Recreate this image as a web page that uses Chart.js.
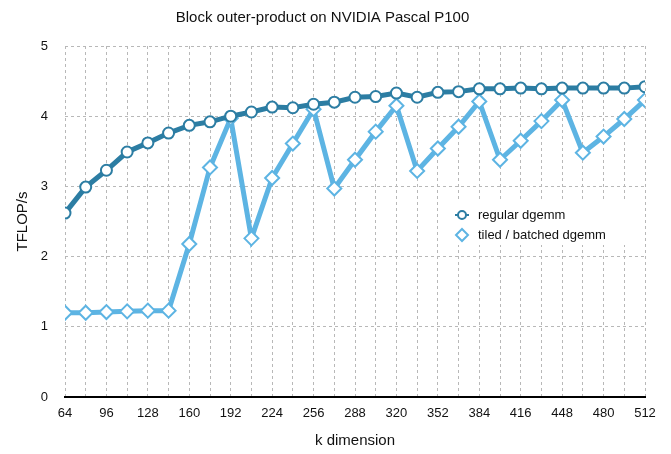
<!DOCTYPE html>
<html>
<head>
<meta charset="utf-8">
<script src="https://cdn.jsdelivr.net/npm/chart.js@4/dist/chart.umd.min.js"></script>
<style>
html,body{margin:0;padding:0;background:#fff;}
#wrap{width:671px;height:454px;}
</style>
</head>
<body>
<div id="wrap"><canvas id="c" width="671" height="454"></canvas></div>
<script>
const kValues = [64,80,96,112,128,144,160,176,192,208,224,240,256,272,288,304,320,336,352,368,384,400,416,432,448,464,480,496,512];
const regularDgemm = [2.62,2.99,3.23,3.49,3.62,3.76,3.87,3.92,4.00,4.06,4.13,4.12,4.17,4.20,4.27,4.28,4.33,4.27,4.34,4.35,4.39,4.39,4.40,4.39,4.40,4.40,4.40,4.40,4.42];
const tiledDgemm = [1.20,1.20,1.21,1.22,1.23,1.23,2.18,3.27,3.97,2.26,3.12,3.61,4.10,2.97,3.38,3.78,4.15,3.22,3.54,3.85,4.21,3.38,3.65,3.93,4.23,3.48,3.71,3.96,4.23];
const seriesNames = ['regular dgemm','tiled / batched dgemm'];
const yTicks = [0,1,2,3,4,5];
const xLabelStep = 32;

const FONT = "'Liberation Sans', Arial, Helvetica, sans-serif";
const C1 = '#2C7DA3';
const C2 = '#5DB4E3';
const GRID = '#b8b8b8';

const legendPlugin = {
  id: 'insideLegend',
  beforeDatasetsDraw(chart) {
    const ctx = chart.ctx;
    ctx.save();
    ctx.fillStyle = '#fff';
    ctx.fillRect(449, 202, 191, 43);
    ctx.font = '13px ' + FONT;
    ctx.textBaseline = 'middle';
    chart.data.datasets.forEach((ds, i) => {
      const y = 215 + i * 20;
      const x = 462;
      ctx.strokeStyle = ds.borderColor;
      ctx.fillStyle = '#fff';
      ctx.lineWidth = 2;
      if (i === 0) {
        ctx.beginPath(); ctx.moveTo(x - 7, y); ctx.lineTo(x + 7, y); ctx.stroke();
        ctx.beginPath(); ctx.arc(x, y, 4, 0, Math.PI * 2); ctx.fill(); ctx.stroke();
      } else {
        ctx.beginPath();
        ctx.moveTo(x, y - 6); ctx.lineTo(x + 6, y); ctx.lineTo(x, y + 6); ctx.lineTo(x - 6, y); ctx.closePath();
        ctx.fill(); ctx.stroke();
      }
      ctx.fillStyle = '#111';
      ctx.fillText(ds.label, 478, y);
    });
    ctx.restore();
  }
};

new Chart(document.getElementById('c'), {
  type: 'line',
  data: {
    datasets: [
      {
        label: seriesNames[0],
        data: kValues.map((k, i) => ({x: k, y: regularDgemm[i]})),
        borderColor: C1, backgroundColor: '#fff',
        borderWidth: 5, pointRadius: 5.5, pointBorderWidth: 2,
        pointBackgroundColor: '#fff', pointBorderColor: C1,
        pointStyle: 'circle', tension: 0
      },
      {
        label: seriesNames[1],
        data: kValues.map((k, i) => ({x: k, y: tiledDgemm[i]})),
        borderColor: C2, backgroundColor: '#fff',
        borderWidth: 5, pointRadius: 7, pointBorderWidth: 2,
        pointBackgroundColor: '#fff', pointBorderColor: C2,
        pointStyle: 'rectRot', tension: 0
      }
    ]
  },
  options: {
    responsive: false,
    animation: false,
    layout: {padding: {left: 0, right: 26, top: 0, bottom: 0}},
    plugins: {
      legend: {display: false},
      tooltip: {enabled: false},
      title: {
        display: true,
        text: 'Block outer-product on NVIDIA Pascal P100',
        color: '#111',
        font: {family: FONT, size: 15, weight: 'normal'},
        padding: {top: 9, bottom: 19}
      }
    },
    scales: {
      x: {
        type: 'linear',
        min: kValues[0], max: kValues[kValues.length - 1],
        afterFit: s => { s.height = 57; },
        ticks: {
          stepSize: 16, autoSkip: false, maxRotation: 0, padding: 9,
          color: '#111', font: {family: FONT, size: 13},
          callback: v => (v % xLabelStep === 0 ? String(v) : '')
        },
        grid: {color: GRID, lineWidth: 1, drawTicks: false},
        border: {display: true, color: '#000', width: 2, dash: [3, 3]},
        title: {display: true, text: 'k dimension', color: '#111', font: {family: FONT, size: 15}, padding: {top: 8, bottom: 4}}
      },
      y: {
        min: yTicks[0], max: yTicks[yTicks.length - 1],
        afterFit: s => { s.width = 65; },
        afterBuildTicks: s => { s.ticks = yTicks.map(v => ({value: v})); },
        ticks: {padding: 17, color: '#111', font: {family: FONT, size: 13}},
        grid: {color: GRID, lineWidth: 1, drawTicks: false},
        border: {display: false, dash: [3, 3]},
        title: {display: true, text: 'TFLOP/s', color: '#111', font: {family: FONT, size: 15}, padding: {top: 14, bottom: 0}}
      }
    }
  },
  plugins: [legendPlugin]
});
</script>
</body>
</html>
